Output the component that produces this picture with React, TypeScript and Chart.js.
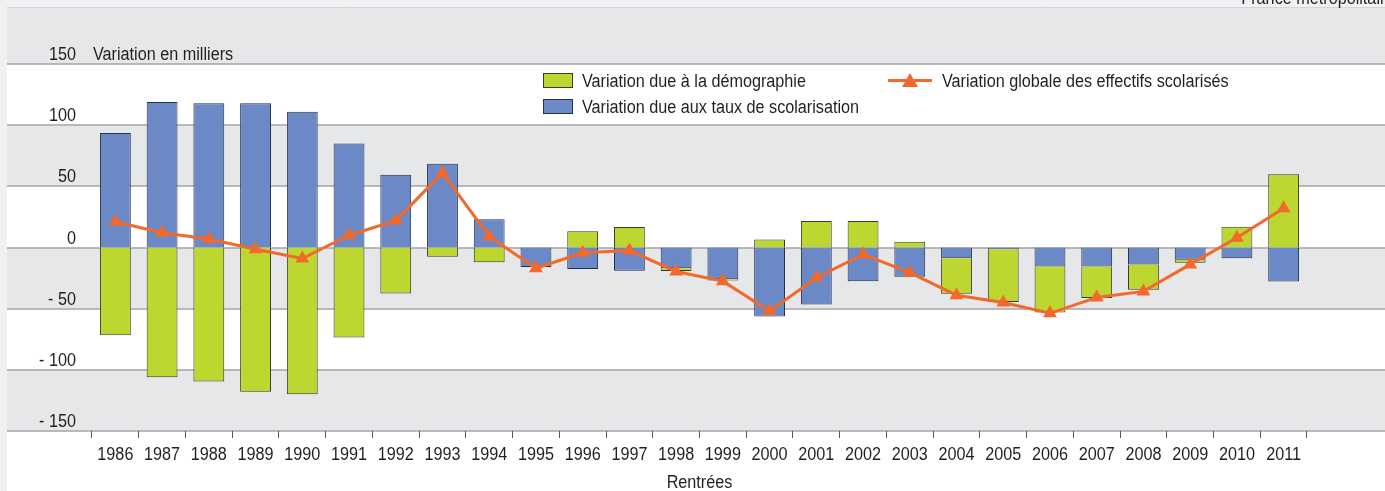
import React, { useEffect, useRef } from "react";
import { Chart, registerables } from "chart.js";

Chart.register(...registerables);

const years = ["1986","1987","1988","1989","1990","1991","1992","1993","1994","1995","1996","1997","1998","1999","2000","2001","2002","2003","2004","2005","2006","2007","2008","2009","2010","2011"];
const tauxScolarisation = [93.5, 119, 118, 118, 111, 85, 59.5, 68.5, 23, -16, -17.5, -19, -17, -26, -56.5, -46.5, -27.5, -24, -8.7, -1.5, -15.5, -15.5, -13.8, -10, -8.8, -27.7];
const demographie = [-71.7, -106, -109.5, -118, -120, -73.6, -37.5, -7.5, -12, 0, 13.3, 16.8, -2.2, -1, 6.5, 21.7, 21.7, 4.6, -29.1, -43, -37.7, -25.8, -20.7, -2.5, 17, 59.8];
const variationGlobale = [21, 12, 7, -1.5, -9, 10, 22, 61, 9, -17, -4.3, -2.5, -19.6, -27.5, -52, -24.7, -5.7, -20.6, -39, -45, -53.8, -40.8, -35.9, -13.8, 8, 32];
const yTickValues = [150, 100, 50, 0, -50, -100, -150];
const yTickLabels = ["150", "100", "50", "0", "- 50", "- 100", "- 150"];

const FONT = '"Liberation Sans", Arial, sans-serif';
const SQUEEZE = 0.9;
const GREEN = "#bed630";
const BLUE = "#6a89c6";
const ORANGE = "#f2692b";
const BAND = "#e6e7e9";
const TEXT = "#231f20";

function text(ctx: CanvasRenderingContext2D, s: string, x: number, y: number, align: CanvasTextAlign) {
  ctx.save();
  ctx.translate(x, y);
  ctx.scale(SQUEEZE, 1);
  ctx.font = `18px ${FONT}`;
  ctx.fillStyle = TEXT;
  ctx.textAlign = align;
  ctx.textBaseline = "alphabetic";
  ctx.fillText(s, 0, 0);
  ctx.restore();
}

const decorPlugin = {
  id: "decor",
  beforeDraw(chart: any) {
    const { ctx, width, height } = chart;
    const y = chart.scales.y;
    ctx.save();
    ctx.fillStyle = "#ffffff";
    ctx.fillRect(0, 0, width, height);
    ctx.fillStyle = "#f0f1f3";
    ctx.fillRect(0, 0, 7, height);
    ctx.fillRect(0, 0, width, 7);
    ctx.strokeStyle = "#d4d5d8";
    ctx.lineWidth = 1;
    ctx.beginPath();
    ctx.moveTo(7, 7.5);
    ctx.lineTo(width, 7.5);
    ctx.stroke();
    text(ctx, "France métropolitaine", 1398, 4, "right");
    const top150 = y.getPixelForValue(150);
    ctx.fillStyle = BAND;
    ctx.fillRect(7, 8, width - 7, top150 - 8);
    for (let i = 0; i < yTickValues.length - 1; i++) {
      const y1 = y.getPixelForValue(yTickValues[i]);
      const y2 = y.getPixelForValue(yTickValues[i + 1]);
      ctx.fillStyle = i % 2 === 0 ? "#ffffff" : BAND;
      ctx.fillRect(7, y1, width - 7, y2 - y1);
    }
    ctx.strokeStyle = "#a3a4a7";
    ctx.lineWidth = 1.5;
    yTickValues.forEach((v) => {
      const py = Math.round(y.getPixelForValue(v));
      ctx.beginPath();
      ctx.moveTo(7, py);
      ctx.lineTo(width, py);
      ctx.stroke();
    });
    yTickValues.forEach((v, i) => {
      text(ctx, yTickLabels[i], 76, y.getPixelForValue(v) - 4, "right");
    });
    text(ctx, "Variation en milliers", 93, y.getPixelForValue(150) - 4, "left");
    // legend
    ctx.lineWidth = 1;
    ctx.strokeStyle = "#3a3a2a";
    ctx.fillStyle = GREEN;
    ctx.fillRect(543, 73, 30, 14);
    ctx.strokeRect(543.5, 73.5, 29, 14);
    ctx.fillStyle = BLUE;
    ctx.fillRect(543, 99, 30, 14);
    ctx.strokeStyle = "#26304a";
    ctx.strokeRect(543.5, 99.5, 29, 14);
    text(ctx, "Variation due à la démographie", 582, 87, "left");
    text(ctx, "Variation due aux taux de scolarisation", 582, 113, "left");
    ctx.strokeStyle = ORANGE;
    ctx.lineWidth = 3;
    ctx.beginPath();
    ctx.moveTo(888, 80.5);
    ctx.lineTo(932, 80.5);
    ctx.stroke();
    ctx.fillStyle = ORANGE;
    ctx.beginPath();
    ctx.moveTo(910, 73);
    ctx.lineTo(918, 87);
    ctx.lineTo(902, 87);
    ctx.closePath();
    ctx.fill();
    text(ctx, "Variation globale des effectifs scolarisés", 942, 87, "left");
    ctx.restore();
  },
  afterDraw(chart: any) {
    const { ctx } = chart;
    const x = chart.scales.x;
    years.forEach((yr, i) => {
      text(ctx, yr, x.getPixelForValue(i), 460, "center");
    });
    text(ctx, "Rentrées", (chart.chartArea.left + chart.chartArea.right) / 2, 488, "center");
  },
};

export default function App() {
  const ref = useRef<HTMLCanvasElement | null>(null);
  useEffect(() => {
    document.body.style.margin = "0";
    const canvas = ref.current;
    if (!canvas) return;
    const chart = new Chart(canvas, {
      type: "bar",
      data: {
        labels: years,
        datasets: [
          {
            type: "line",
            label: "Variation globale des effectifs scolarisés",
            data: variationGlobale,
            borderColor: ORANGE,
            backgroundColor: ORANGE,
            borderWidth: 3,
            pointStyle: "triangle",
            pointRadius: 8,
            pointBackgroundColor: ORANGE,
            pointBorderColor: ORANGE,
            pointBorderWidth: 0,
            order: 0,
            stack: "line",
          } as any,
          {
            type: "bar",
            label: "Variation due aux taux de scolarisation",
            data: tauxScolarisation,
            backgroundColor: BLUE,
            borderColor: "#26304a",
            borderWidth: 1,
            barPercentage: 0.66,
            categoryPercentage: 1,
            order: 1,
            stack: "bars",
          },
          {
            type: "bar",
            label: "Variation due à la démographie",
            data: demographie,
            backgroundColor: GREEN,
            borderColor: "#3a3a2a",
            borderWidth: 1,
            barPercentage: 0.66,
            categoryPercentage: 1,
            order: 1,
            stack: "bars",
          },
        ],
      },
      options: {
        responsive: false,
        animation: false,
        layout: { padding: { left: 92, right: 78, top: 64, bottom: 0 } },
        plugins: { legend: { display: false }, tooltip: { enabled: false } },
        scales: {
          x: {
            stacked: true,
            offset: true,
            grid: {
              offset: true,
              drawOnChartArea: false,
              drawTicks: true,
              tickLength: 7,
              color: "#555555",
              lineWidth: 1,
            },
            border: { display: false },
            ticks: { display: false },
            afterFit: (scale: any) => {
              scale.height = 60;
            },
          },
          y: {
            stacked: true,
            display: false,
            min: -150,
            max: 150,
          },
        },
      },
      plugins: [decorPlugin],
    });
    return () => chart.destroy();
  }, []);
  return (
    <div style={{ position: "fixed", left: 0, top: 0, width: 1385, height: 491 }}>
      <canvas ref={ref} width={1385} height={491} style={{ width: 1385, height: 491 }} />
    </div>
  );
}
